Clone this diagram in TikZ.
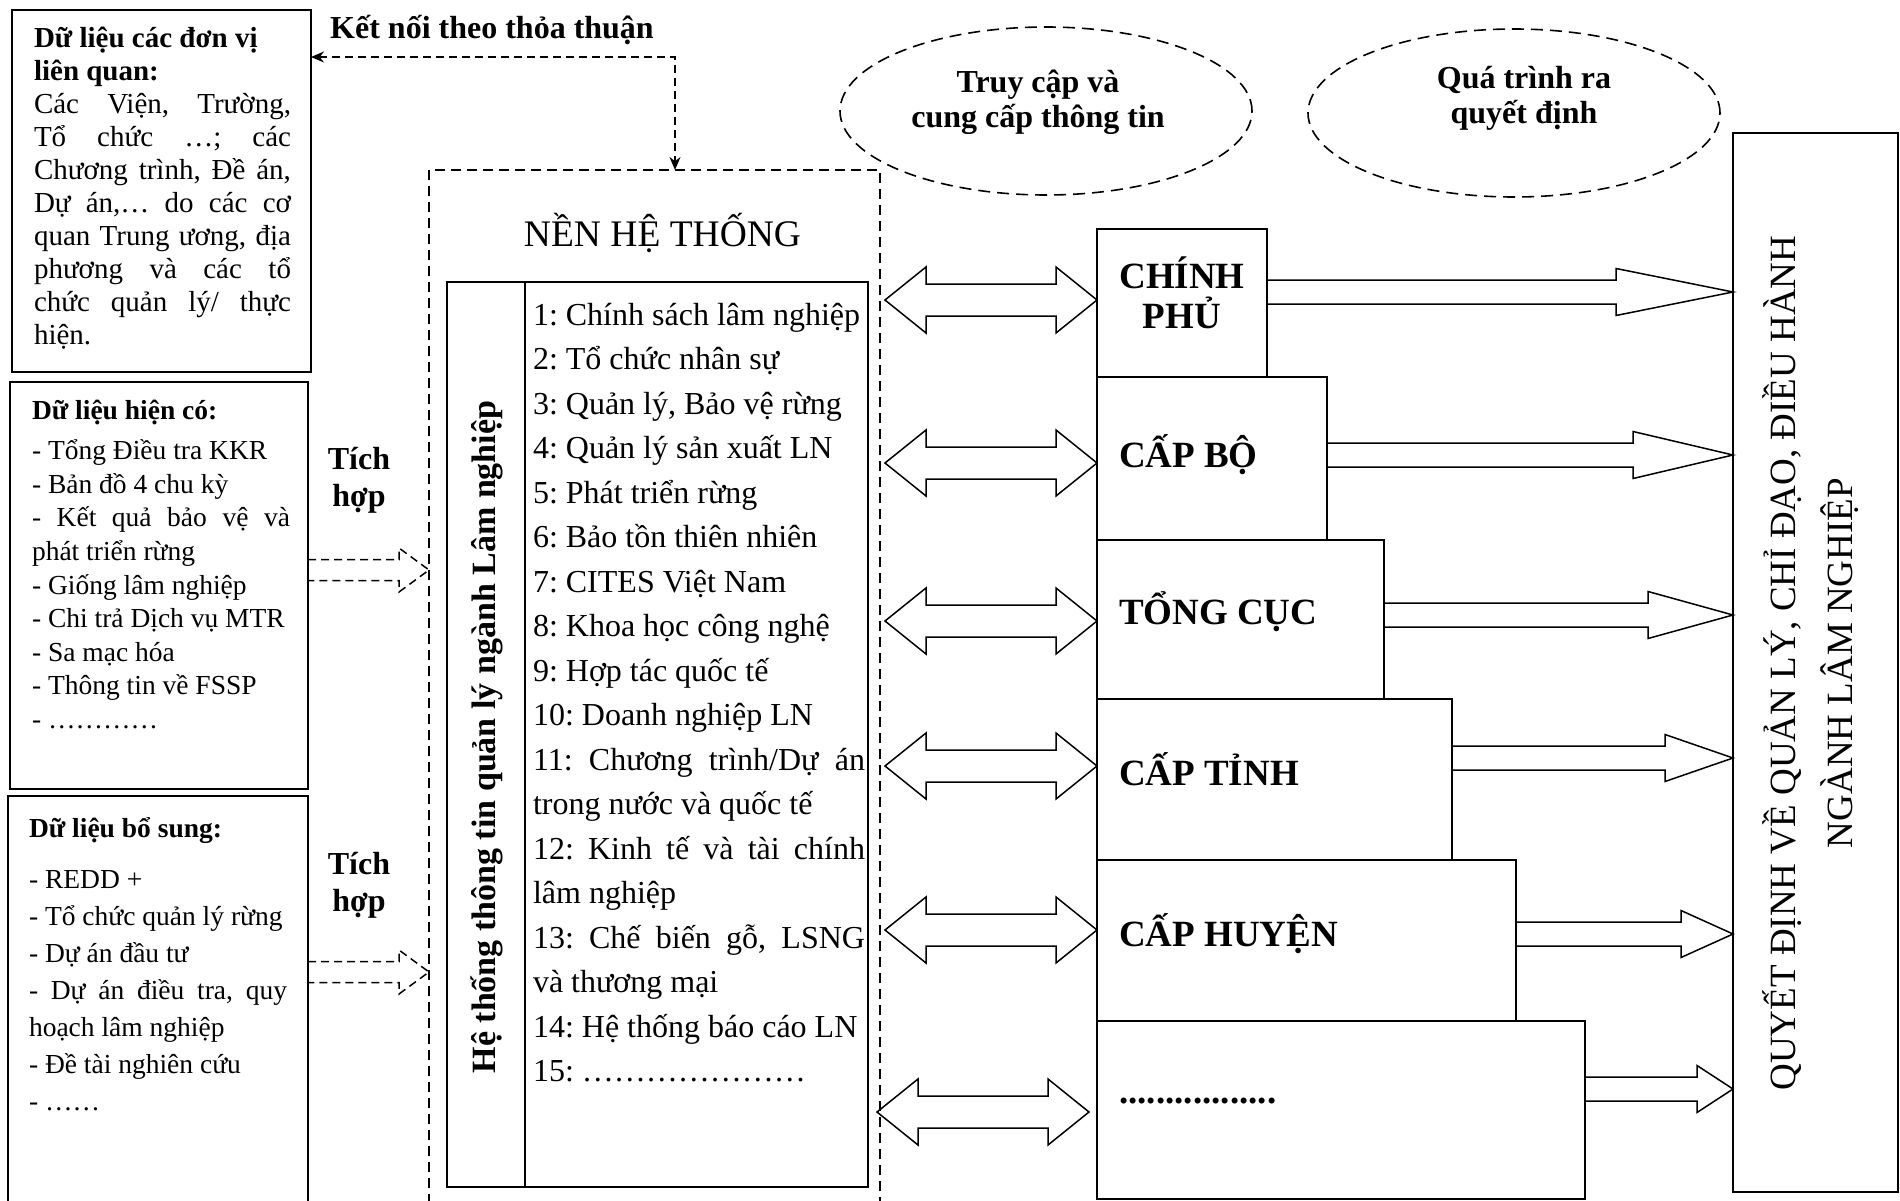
\documentclass[tikz,border=0pt]{standalone}
\usepackage{fontspec}
\setmainfont{Liberation Serif}
\frenchspacing
\usetikzlibrary{positioning, calc, shapes.geometric, arrows.meta}
\newcommand{\fatarrow}[6]{%
  \draw[#1] let \p1=(#2), \p2=(#3) in
    (\x1,\y1+#5) -- (\x2-#4,\y1+#5) -- (\x2-#4,\y1+#6) -- (\x2,\y1)
    -- (\x2-#4,\y1-#6) -- (\x2-#4,\y1-#5) -- (\x1,\y1-#5) -- cycle;}
\newcommand{\twinarrow}[3]{%
  \draw[#1] let \p1=(#2), \p2=(#3) in
    (\x1,\y1) -- (\x1+41pt,\y1+33pt) -- (\x1+41pt,\y1+16pt) -- (\x2-41pt,\y1+16pt)
    -- (\x2-41pt,\y1+33pt) -- (\x2,\y1) -- (\x2-41pt,\y1-33pt) -- (\x2-41pt,\y1-16pt)
    -- (\x1+41pt,\y1-16pt) -- (\x1+41pt,\y1-33pt) -- cycle;}

\begin{document}
\begin{tikzpicture}[
        x=1pt,
        y=-1pt,
        line width=1.6pt,
        >={Stealth[length=13pt, width=11pt]},
        every node/.style={inner sep=0pt, outer sep=0pt},
        box/.style={draw, rectangle, anchor=north west},
        datatext/.style={anchor=base west, text width=257pt, align=justify},
        dashedline/.style={line width=1.5pt, dash pattern=on 10pt off 6pt},
        linkline/.style={line width=1.5pt, dash pattern=on 8pt off 5pt, <->},
        cloud/.style={draw, ellipse, dash pattern=on 12pt off 7pt, minimum width=412pt, minimum height=168pt},
        cloudtext/.style={font=\fontsize{32}{35}\selectfont\bfseries, align=center},
        leveltext/.style={font=\fontsize{37}{40}\selectfont\bfseries, anchor=west},
        mergetext/.style={font=\fontsize{32}{37}\selectfont\bfseries, align=center},
        hollow/.style={line width=1.5pt}
    ]
    \useasboundingbox (0,0) rectangle (1900,1201);

    % data sources
    \node[box, minimum width=299, minimum height=362] (units) at (12,10) {};
    \node[box, minimum width=298, minimum height=407] (present) at (10,382) {};
    \node[box, minimum width=300, minimum height=420] (extra) at (8,796) {};

    \node[datatext, font=\fontsize{29}{33}\selectfont] at ($(units.north west)+(22,38)$) {
        \textbf{Dữ liệu các đơn vị}\\
        \textbf{liên quan:}\\
        Các Viện, Trường,\linebreak
        Tổ chức …; các\linebreak
        Chương trình, Đề án,\linebreak
        Dự án,… do các cơ\linebreak
        quan Trung ương, địa\linebreak
        phương và các tổ\linebreak
        chức quản lý/ thực\linebreak
        hiện.
    };
    \node[datatext, text width=258pt, font=\fontsize{27.5}{33.6}\selectfont] at ($(present.north west)+(22,37)$) {
        \textbf{Dữ liệu hiện có:}\\[7pt]
        - Tổng Điều tra KKR\\
        - Bản đồ 4 chu kỳ\\
        - Kết quả bảo vệ và\linebreak
        phát triển rừng\\
        - Giống lâm nghiệp\\
        - Chi trả Dịch vụ MTR\\
        - Sa mạc hóa\\
        - Thông tin về FSSP\\
        - …………
    };
    \node[datatext, text width=258pt, font=\fontsize{27.5}{37}\selectfont] at ($(extra.north west)+(21,41)$) {
        \textbf{Dữ liệu bổ sung:}\\[14pt]
        - REDD +\\
        - Tổ chức quản lý rừng\\
        - Dự án đầu tư\\
        - Dự án điều tra, quy\linebreak
        hoạch lâm nghiệp\\
        - Đề tài nghiên cứu\\
        - ……
    };

    % system platform
    \node[box, dashedline, minimum width=451, minimum height=1050] (base) at (429,170) {};
    \node[font=\fontsize{37.5}{40}\selectfont] (basetitle) at ($(base.north)+(8,63)$) {NỀN HỆ THỐNG};
    \node[box, minimum width=421, minimum height=905] (mis) at (447,282) {};
    \draw ($(mis.north west)+(78,0)$) -- ($(mis.south west)+(78,0)$);
    \node[font=\fontsize{34}{38}\selectfont\bfseries, rotate=90] (mistitle) at ($(mis.north west)+(40,455)$) {Hệ thống thông tin quản lý ngành Lâm nghiệp};
    \node[datatext, text width=332pt, font=\fontsize{32}{44.5}\selectfont] (modules) at ($(mis.north west)+(86,43)$) {
        1: Chính sách lâm nghiệp\\
        2: Tổ chức nhân sự\\
        3: Quản lý, Bảo vệ rừng\\
        4: Quản lý sản xuất LN\\
        5: Phát triển rừng\\
        6: Bảo tồn thiên nhiên\\
        7: CITES Việt Nam\\
        8: Khoa học công nghệ\\
        9: Hợp tác quốc tế\\
        10: Doanh nghiệp LN\\
        11: Chương trình/Dự án\linebreak
        trong nước và quốc tế\\
        12: Kinh tế và tài chính\linebreak
        lâm nghiệp\\
        13: Chế biến gỗ, LSNG\linebreak
        và thương mại\\
        14: Hệ thống báo cáo LN\\
        15: …………………
    };

    % agreement link
    \node[font=\fontsize{32}{35}\selectfont\bfseries] (linklabel) at (492,30) {Kết nối theo thỏa thuận};
    \coordinate (link) at (675,57);
    \draw[linkline] (units.east |- link) -- (link) -- (link |- base.north);

    % integration
    \node[mergetext] (merge1) at (359,480) {Tích\\hợp};
    \node[mergetext] (merge2) at (359,885) {Tích\\hợp};
    \fatarrow{hollow, dash pattern=on 8pt off 5pt}{present.east |- 0,570}{base.west |- 0,570}{30pt}{10.5pt}{22pt}
    \fatarrow{hollow, dash pattern=on 8pt off 5pt}{extra.east |- 0,972}{base.west |- 0,972}{30pt}{10.5pt}{22pt}

    % ovals
    \node[cloud] (access) at (1046,111) {};
    \node[cloudtext] at ($(access.center)+(-8,-9)$) {Truy cập và\\cung cấp thông tin};
    \node[cloud] (decide) at (1514,113) {};
    \node[cloudtext] at ($(decide.center)+(10,-15)$) {Quá trình ra\\quyết định};

    % levels
    \foreach \name/\ty/\bw/\bh in {gov/229/170/148, bo/377/230/163, tc/540/287/159,
            tinh/699/355/161, huyen/860/419/161, more/1021/488/178}
        \node[box, minimum width=\bw, minimum height=\bh] (\name) at (1097,\ty) {};
    \node[leveltext, anchor=center, align=center] at ($(gov.center)+(0,-10)$) {CHÍNH\\PHỦ};
    \node[leveltext, right=22pt of bo.west, yshift=4pt] {CẤP BỘ};
    \node[leveltext, right=22pt of tc.west, yshift=8pt] {TỔNG CỤC};
    \node[leveltext, right=22pt of tinh.west, yshift=10pt] {CẤP TỈNH};
    \node[leveltext, right=22pt of huyen.west, yshift=7pt] {CẤP HUYỆN};
    \node[leveltext, anchor=base west] at ($(more.west)+(22,-7)$) {.................};

    % decisions
    \node[box, minimum width=165, minimum height=1059] (decision) at (1733,133) {};
    \node[font=\fontsize{37}{57}\selectfont, rotate=90, align=center] at (1811,663) {QUYẾT ĐỊNH VỀ QUẢN LÝ, CHỈ ĐẠO, ĐIỀU HÀNH\\NGÀNH LÂM NGHIỆP};

    \foreach \name/\yc/\ds/\de in {gov/300/5/0, bo/463/5/0, tc/621/5/0, tinh/766/5/0, huyen/930/5/0, more/1112/-3/-8}{
        \twinarrow{hollow}{$(base.east |- 0,\yc)+(\ds,0)$}{$(\name.west |- 0,\yc)+(\de,0)$}
    }
    \foreach \name/\yr/\hb in {gov/292/117pt, bo/455/100pt, tc/615/85pt, tinh/758/68pt, huyen/934/52pt, more/1089/36pt}{
        \fatarrow{hollow}{\name.east |- 0,\yr}{decision.west |- 0,\yr}{\hb}{12pt}{23.5pt}
    }
\end{tikzpicture}
\end{document}
